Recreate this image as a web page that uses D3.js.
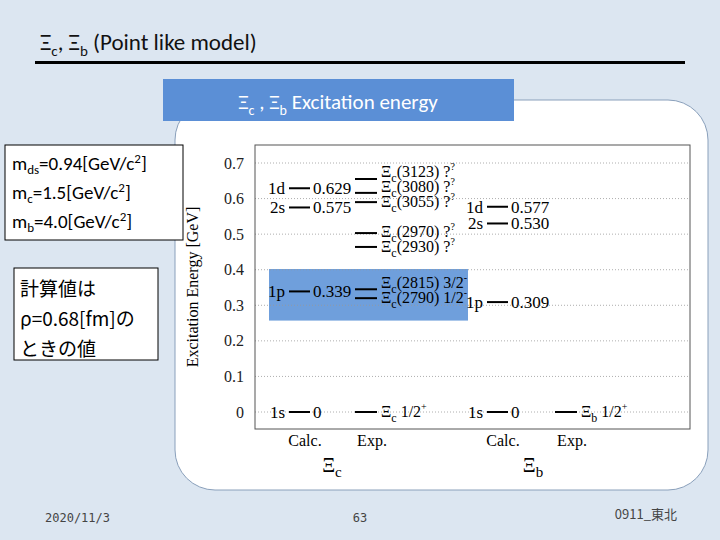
<!DOCTYPE html><html><head><meta charset="utf-8"><script src="https://cdn.jsdelivr.net/npm/d3@7"></script>
<style>body{margin:0;background:#dce6f1;}svg{display:block}</style></head><body><svg id="s" width="720" height="540"></svg>
<script>
const columns=["Calc.c","Exp.c","Calc.b","Exp.b"];
const yTicks=[0,0.1,0.2,0.3,0.4,0.5,0.6,0.7];
const calcC=[{s:"1s",v:0},{s:"1p",v:0.339},{s:"2s",v:0.575},{s:"1d",v:0.629}];
const expC=[{n:"1/2",sp:"+",v:0,g:true},{n:"(2790) 1/2",sp:"-",v:0.320},{n:"(2815) 3/2",sp:"-",v:0.345},{n:"(2930) ?",sp:"?",v:0.464},{n:"(2970) ?",sp:"?",v:0.503},{n:"(3055) ?",sp:"?",v:0.590},{n:"(3080) ?",sp:"?",v:0.616},{n:"(3123) ?",sp:"?",v:0.655}];
const calcB=[{s:"1s",v:0},{s:"1p",v:0.309},{s:"2s",v:0.530},{s:"1d",v:0.577}];
const expB=[{n:"1/2",sp:"+",v:0,g:true}];
const svg=d3.select("#s");
const sans="Calibri,'Open Sans',sans-serif", serif="'Liberation Serif','DejaVu Serif',serif";
svg.append("text").attr("x",40).attr("y",50).attr("font-family",sans).attr("font-size",23).attr("fill","#111")
 .html('Ξ<tspan font-size="15" dy="6">c</tspan><tspan dy="-6">, Ξ</tspan><tspan font-size="15" dy="6">b</tspan><tspan dy="-6"> (Point like model)</tspan>');
svg.append("rect").attr("x",35).attr("y",61).attr("width",650).attr("height",3).attr("fill","#000");
svg.append("rect").attr("x",175).attr("y",100).attr("width",533).attr("height",390).attr("rx",40).attr("fill","#fff").attr("stroke","#8aa0bb");
svg.append("rect").attr("x",163).attr("y",79).attr("width",351).attr("height",42).attr("fill","#5b8fd6");
svg.append("text").attr("x",338).attr("y",109).attr("text-anchor","middle").attr("font-family",sans).attr("font-size",21).attr("fill","#fff")
 .html('Ξ<tspan font-size="14" dy="6">c</tspan><tspan dy="-6"> , Ξ</tspan><tspan font-size="14" dy="6">b</tspan><tspan dy="-6"> Excitation energy</tspan>');
svg.append("rect").attr("x",5).attr("y",145).attr("width",178).attr("height",95).attr("fill","#fff").attr("stroke","#000");
const lt=[['m','ds','=0.94[GeV/c','2',']'],['m','c','=1.5[GeV/c','2',']'],['m','b','=4.0[GeV/c','2',']']];
lt.forEach((t,i)=>svg.append("text").attr("x",12).attr("y",170+i*29).attr("font-family",sans).attr("font-size",19)
 .html(`${t[0]}<tspan font-size="13" dy="4">${t[1]}</tspan><tspan dy="-4">${t[2]}</tspan><tspan font-size="13" dy="-7">${t[3]}</tspan><tspan dy="7">${t[4]}</tspan>`));
svg.append("rect").attr("x",14).attr("y",268).attr("width",144).attr("height",92).attr("fill","#fff").attr("stroke","#000");
["計算値は","ρ=0.68[fm]の","ときの値"].forEach((t,i)=>svg.append("text").attr("x",20).attr("y",296+i*30).attr("font-family","'Noto Sans CJK JP',sans-serif").attr("font-size",19).text(t));
svg.append("text").attr("x",45).attr("y",522).attr("font-family","'DejaVu Sans Mono',monospace").attr("font-size",12).attr("fill","#444").text("2020/11/3");
svg.append("text").attr("x",360).attr("y",522).attr("text-anchor","middle").attr("font-family","'DejaVu Sans Mono',monospace").attr("font-size",12).attr("fill","#444").text("63");
svg.append("text").attr("x",677).attr("y",519).attr("text-anchor","end").attr("font-family","'Noto Sans CJK JP',sans-serif").attr("font-size",13).attr("fill","#444").text("0911_東北");
const L=255,R=690,T=145,B=429;
const y=d3.scaleLinear().domain([0,0.7]).range([412,163]);
const xp={"Calc.c":299,"Exp.c":366,"Calc.b":497,"Exp.b":566};
svg.append("rect").attr("x",269).attr("y",y(0.402)).attr("width",199).attr("height",y(0.257)-y(0.402)).attr("fill","#6f9fdc");
yTicks.forEach(t=>svg.append("line").attr("x1",L).attr("x2",R).attr("y1",y(t)).attr("y2",y(t)).attr("stroke","#999").attr("stroke-dasharray","1,2").attr("stroke-width",0.8));
svg.append("rect").attr("x",L).attr("y",T).attr("width",R-L).attr("height",B-T).attr("fill","none").attr("stroke","#555");
const ax=svg.append("g").attr("transform",`translate(${L-8},0)`).call(d3.axisLeft(y).tickValues(yTicks).tickFormat(d=>d===0?"0":d3.format(".1f")(d)).tickSize(0));
ax.select(".domain").remove();ax.selectAll("text").attr("font-family",serif).attr("font-size",16).attr("fill","#222");
svg.append("text").attr("transform","translate(198,287) rotate(-90)").attr("text-anchor","middle").attr("font-family",serif).attr("font-size",16).text("Excitation Energy [GeV]");
const f=serif;
function calc(data,col){const cx=xp[col];
 data.forEach(d=>{const yy=y(d.v);
  svg.append("line").attr("x1",cx-10).attr("x2",cx+11).attr("y1",yy).attr("y2",yy).attr("stroke","#000").attr("stroke-width",2);
  svg.append("text").attr("x",cx-14).attr("y",yy+6).attr("text-anchor","end").attr("font-family",f).attr("font-size",17).text(d.s);
  svg.append("text").attr("x",cx+14).attr("y",yy+6).attr("font-family",f).attr("font-size",17).text(d.v===0?"0":d3.format(".3f")(d.v));});}
function exp(data,col,sub){const cx=xp[col];
 const sorted=data.slice().sort((a,b)=>a.v-b.v);let last=1e9;
 sorted.forEach(d=>{const yy=y(d.v);let ly=Math.min(yy+5,last-15);last=ly;
  svg.append("line").attr("x1",cx-11).attr("x2",cx+11).attr("y1",yy).attr("y2",yy).attr("stroke","#000").attr("stroke-width",2);
  svg.append("text").attr("x",cx+15).attr("y",ly).attr("font-family",f).attr("font-size",16)
   .html(`Ξ<tspan font-size="12" dy="5">${sub}</tspan><tspan dy="-5">${d.g?" ":""}${d.n}</tspan><tspan font-size="10" dy="-7">${d.sp}</tspan>`);});}
calc(calcC,"Calc.c");exp(expC,"Exp.c","c");calc(calcB,"Calc.b");exp(expB,"Exp.b","b");
columns.forEach(c=>svg.append("text").attr("x",xp[c]+6).attr("y",446).attr("text-anchor","middle").attr("font-family",f).attr("font-size",16).text(c.slice(0,c.length-1)));
[["c",332],["b",533]].forEach(([s,cx])=>svg.append("text").attr("x",cx).attr("y",472).attr("text-anchor","middle").attr("font-family",f).attr("font-size",20)
 .html(`Ξ<tspan font-size="15" dy="5">${s}</tspan>`));
</script></body></html>
